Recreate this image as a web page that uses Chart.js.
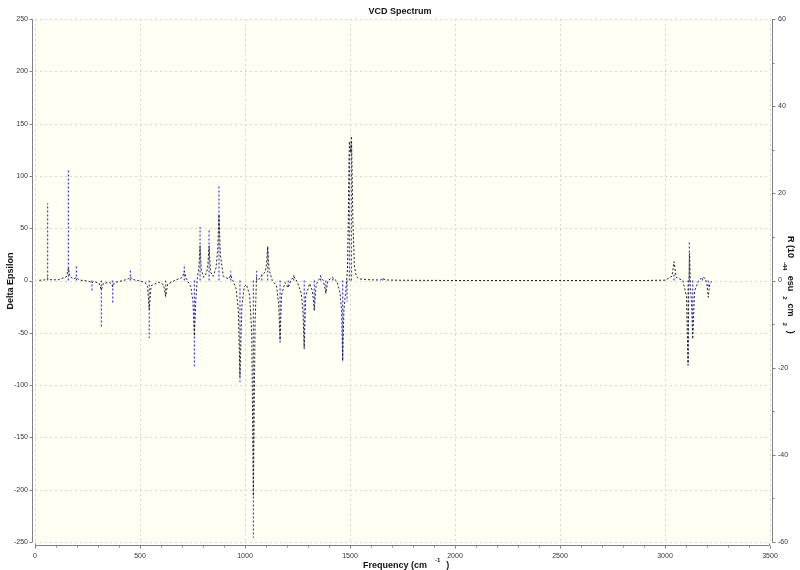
<!DOCTYPE html>
<html>
<head>
<meta charset="utf-8">
<title>VCD Spectrum</title>
<script src="https://cdn.jsdelivr.net/npm/chart.js@4.4.0/dist/chart.umd.min.js"></script>
<style>
    body { margin: 0; background: #fff; }
    canvas { display: block; }
</style>
</head>
<body>
<canvas id="vcdChart" width="800" height="570"></canvas>
<script>
// Broadened spectrum (Delta Epsilon, left axis)
const curveFreq = [20, 48, 60, 70, 110, 150, 159, 167, 185, 197, 210, 250, 265, 271, 278, 305, 316, 326, 355, 364, 370, 378,
    420, 445, 454, 464, 500, 525, 536, 544, 553, 590, 612, 622, 632, 670, 702, 711, 720, 742, 752, 759, 766, 773, 780, 786,
    792, 803, 818, 823, 829, 836, 848, 862, 870, 876, 883, 897, 922, 932, 942, 958, 968, 976, 985, 996, 1007, 1022, 1032,
    1040, 1048, 1055, 1066, 1080, 1096, 1102, 1108, 1115, 1130, 1150, 1160, 1167, 1174, 1190, 1206, 1218, 1232, 1248, 1268,
    1276, 1282, 1289, 1308, 1321, 1330, 1339, 1360, 1373, 1385, 1395, 1418, 1438, 1453, 1460, 1465, 1471, 1480, 1488, 1492,
    1497, 1502, 1507, 1514, 1521, 1530, 1545, 1600, 1645, 1657, 1668, 1750, 2000, 2900, 3000, 3033, 3043, 3053, 3085, 3102,
    3110, 3113, 3117, 3121, 3127, 3132, 3141, 3160, 3178, 3192, 3200, 3206, 3213, 3228];
const curveDelta = [0.2, 0.6, 2.5, 0.8, 0.6, 3.5, 12, 3.5, 1.5, 3, 0.5, -0.5, -1.5, -2.5, -1, -2.5, -9, -2.5, -2, -3, -6, -2,
    0, 1.5, 3.5, 1, -0.5, -2, -6, -28, -5, -1.5, -4, -15, -3.5, 0.5, 3, 9, 2, -6, -20, -53, -18, 2, 12, 33,
    10, 3, 8, 15, 33, 8, 4, 12, 30, 63, 24, 4, 1.5, 5, 0, -8, -28, -92, -25, -6, -4, -14, -50,
    -206, -40, 3, 1, 5, 8, 15, 32, 10, 0, -5, -22, -57, -14, -2, -7, 0, 4, -1, -12,
    -30, -65, -15, -3, -10, -28, -4, 4, 0, -12, 0, 3, -1, -12, -30, -77, -28, -10, 10, 60,
    133, 122, 138, 55, 14, 4, 1.5, 0.6, 0.5, 2, 0.5, 0.2, 0, 0, 0.3, 4, 18, 3, 0, -15,
    -81, -10, 26, -5, -25, -56, -10, 0, 3, 2, -4, -16, -3, 0];

// Rotatory strengths (right axis), one stick per mode
const stickFreq = [60, 159, 197, 271, 316, 370, 454, 544, 622, 711, 759, 786, 829, 876, 932, 976, 1040, 1055, 1080, 1108,
    1167, 1206, 1232, 1282, 1330, 1360, 1385, 1418, 1465, 1486, 1497, 1507, 1657, 3043, 3110, 3116, 3132, 3178, 3206];
const stickR = [17.7, 25.3, 3.4, -2.3, -10.8, -5.5, 2.8, -13.2, -3.8, 3.7, -19.7, 12.3, 11.5, 21.8, 2.1, -23.3, -59, 2.2, 1.9, 8.0,
    -14.2, -1.5, 1.2, -15.8, -7.0, 1.2, -3.0, 0.6, -18.5, -4.8, 28.8, 31.5, 0.5, 1.9, -19.2, 9.0, -12, 0.7, -1.4];

// Axis ranges / ticks
const freqTicks = [0, 500, 1000, 1500, 2000, 2500, 3000, 3500];
const deltaTicks = [-250, -200, -150, -100, -50, 0, 50, 100, 150, 200, 250];
const rTicks = [-60, -40, -20, 0, 20, 40, 60];

const fontName = '"Liberation Sans", Arial, sans-serif';

// Build point lists for the library
const curvePoints = curveFreq.map((f, i) => ({ x: f, y: curveDelta[i] }));
const stickPoints = [];
stickFreq.forEach((f, i) => {
    stickPoints.push({ x: f, y: 0 }, { x: f, y: stickR[i] }, { x: f, y: null });
});

// Background, grid, axis lines, tick marks and titles
const frame = {
    id: 'frame',
    beforeDraw(chart) {
        const ctx = chart.ctx;
        const a = chart.chartArea;
        const sx = chart.scales.x, sy = chart.scales.y;
        ctx.save();
        ctx.fillStyle = '#ffffff';
        ctx.fillRect(0, 0, chart.width, chart.height);
        ctx.fillStyle = 'rgb(255,255,243)';
        ctx.fillRect(a.left, a.top, a.right - a.left, a.bottom - a.top);
        ctx.strokeStyle = '#d6d6d6';
        ctx.lineWidth = 1;
        ctx.setLineDash([2, 3]);
        freqTicks.forEach(v => {
            const px = Math.round(sx.getPixelForValue(v)) + 0.5;
            ctx.beginPath(); ctx.moveTo(px, a.top); ctx.lineTo(px, a.bottom); ctx.stroke();
        });
        deltaTicks.forEach(v => {
            const py = Math.round(sy.getPixelForValue(v)) + 0.5;
            ctx.beginPath(); ctx.moveTo(a.left, py); ctx.lineTo(a.right, py); ctx.stroke();
        });
        ctx.restore();
    },
    afterDraw(chart) {
        const ctx = chart.ctx;
        const a = chart.chartArea;
        const sx = chart.scales.x, sy = chart.scales.y, sr = chart.scales.y2;
        ctx.save();
        ctx.strokeStyle = '#808080';
        ctx.lineWidth = 1;
        ctx.setLineDash([]);

        // left axis
        const lx = a.left - 2.5;
        ctx.beginPath(); ctx.moveTo(lx, a.top); ctx.lineTo(lx, a.bottom); ctx.stroke();
        deltaTicks.forEach(v => {
            const py = Math.round(sy.getPixelForValue(v)) + 0.5;
            ctx.beginPath(); ctx.moveTo(lx - 3, py); ctx.lineTo(lx, py); ctx.stroke();
        });

        // right axis, with minor ticks
        const rx = a.right + 2.5;
        ctx.beginPath(); ctx.moveTo(rx, a.top); ctx.lineTo(rx, a.bottom); ctx.stroke();
        for (let v = -60; v <= 60; v += 10) {
            const py = Math.round(sr.getPixelForValue(v)) + 0.5;
            const len = rTicks.includes(v) ? 3 : 2;
            ctx.beginPath(); ctx.moveTo(rx, py); ctx.lineTo(rx + len, py); ctx.stroke();
        }

        // bottom axis, with minor ticks
        const by = a.bottom + 3.5;
        ctx.beginPath();
        ctx.moveTo(a.left + 0.5, by - 2); ctx.lineTo(a.left + 0.5, by);
        ctx.lineTo(a.right - 0.5, by); ctx.lineTo(a.right - 0.5, by - 2);
        ctx.stroke();
        for (let v = 0; v <= 3500; v += 100) {
            const px = Math.round(sx.getPixelForValue(v)) + 0.5;
            const len = freqTicks.includes(v) ? 3 : 2;
            ctx.beginPath(); ctx.moveTo(px, by); ctx.lineTo(px, by + len); ctx.stroke();
        }

        // titles
        ctx.fillStyle = '#111';
        ctx.textBaseline = 'alphabetic';
        ctx.font = 'bold 9px ' + fontName;
        ctx.textAlign = 'center';
        ctx.fillText('VCD Spectrum', 400, 14);

        // bottom title with superscript
        ctx.textAlign = 'left';
        let x = 363;
        ctx.fillText('Frequency (cm', x, 568);
        x += ctx.measureText('Frequency (cm').width + 8;
        ctx.font = 'bold 6px ' + fontName;
        ctx.fillText('-1', x, 562);
        x += ctx.measureText('-1').width + 6;
        ctx.font = 'bold 9px ' + fontName;
        ctx.fillText(')', x, 568);

        // left title
        ctx.save();
        ctx.translate(13, 281);
        ctx.rotate(-Math.PI / 2);
        ctx.textAlign = 'center';
        ctx.fillText('Delta Epsilon', 0, 0);
        ctx.restore();

        // right title, rotated clockwise; superscripts sit to the left
        ctx.save();
        ctx.translate(788, 236);
        ctx.rotate(Math.PI / 2);
        ctx.textAlign = 'left';
        const parts = [
            ['R (10', 9, 0, 4], ['-44', 6, 5, 5], ['esu', 9, 0, 5], ['2', 6, 5, 4],
            ['cm', 9, 0, 6], ['2', 6, 5, 5], [')', 9, 0, 0]
        ];
        let t = 0;
        parts.forEach(p => {
            ctx.font = 'bold ' + p[1] + 'px ' + fontName;
            ctx.fillText(p[0], t, p[2]);
            t += ctx.measureText(p[0]).width + p[3];
        });
        ctx.restore();

        ctx.restore();
    }
};

let vcdCtx = document.getElementById('vcdChart').getContext('2d');
let vcdChart = new Chart(vcdCtx, {
    type: 'scatter',
    data: {
        datasets: [{
            label: 'Delta Epsilon',
            data: curvePoints,
            showLine: true,
            yAxisID: 'y',
            borderColor: '#222222',
            borderWidth: 1,
            borderDash: [2, 2],
            pointRadius: 0,
            tension: 0,
            order: 0
        }, {
            label: 'R',
            data: stickPoints,
            showLine: true,
            spanGaps: false,
            yAxisID: 'y2',
            borderColor: 'rgb(60,60,255)',
            borderWidth: 1.2,
            borderDash: [2, 2],
            pointRadius: 0,
            order: 1
        }]
    },
    options: {
        responsive: false,
        animation: false,
        devicePixelRatio: 1,
        layout: { padding: { top: 19, left: 0, right: 0, bottom: 0 } },
        plugins: {
            legend: { display: false },
            title: { display: false },
            tooltip: { enabled: false }
        },
        scales: {
            x: {
                type: 'linear',
                min: 0,
                max: 3500,
                afterFit(scale) { scale.height = 28; },
                afterBuildTicks(scale) { scale.ticks = freqTicks.map(v => ({ value: v })); },
                grid: { display: false, drawTicks: false },
                border: { display: false },
                ticks: {
                    color: '#333', font: { family: fontName, size: 7 }, padding: 10, maxRotation: 0,
                    callback: v => String(v)
                }
            },
            y: {
                position: 'left',
                min: -250,
                max: 250,
                afterFit(scale) { scale.width = 35; },
                afterBuildTicks(scale) { scale.ticks = deltaTicks.map(v => ({ value: v })); },
                grid: { display: false, drawTicks: false },
                border: { display: false },
                ticks: { color: '#333', font: { family: fontName, size: 7 }, padding: 7, callback: v => String(v) }
            },
            y2: {
                position: 'right',
                min: -60,
                max: 60,
                afterFit(scale) { scale.width = 30; },
                afterBuildTicks(scale) { scale.ticks = rTicks.map(v => ({ value: v })); },
                grid: { display: false, drawTicks: false },
                border: { display: false },
                ticks: { color: '#333', font: { family: fontName, size: 7 }, padding: 8, callback: v => String(v) }
            }
        }
    },
    plugins: [frame]
});
</script>
</body>
</html>
